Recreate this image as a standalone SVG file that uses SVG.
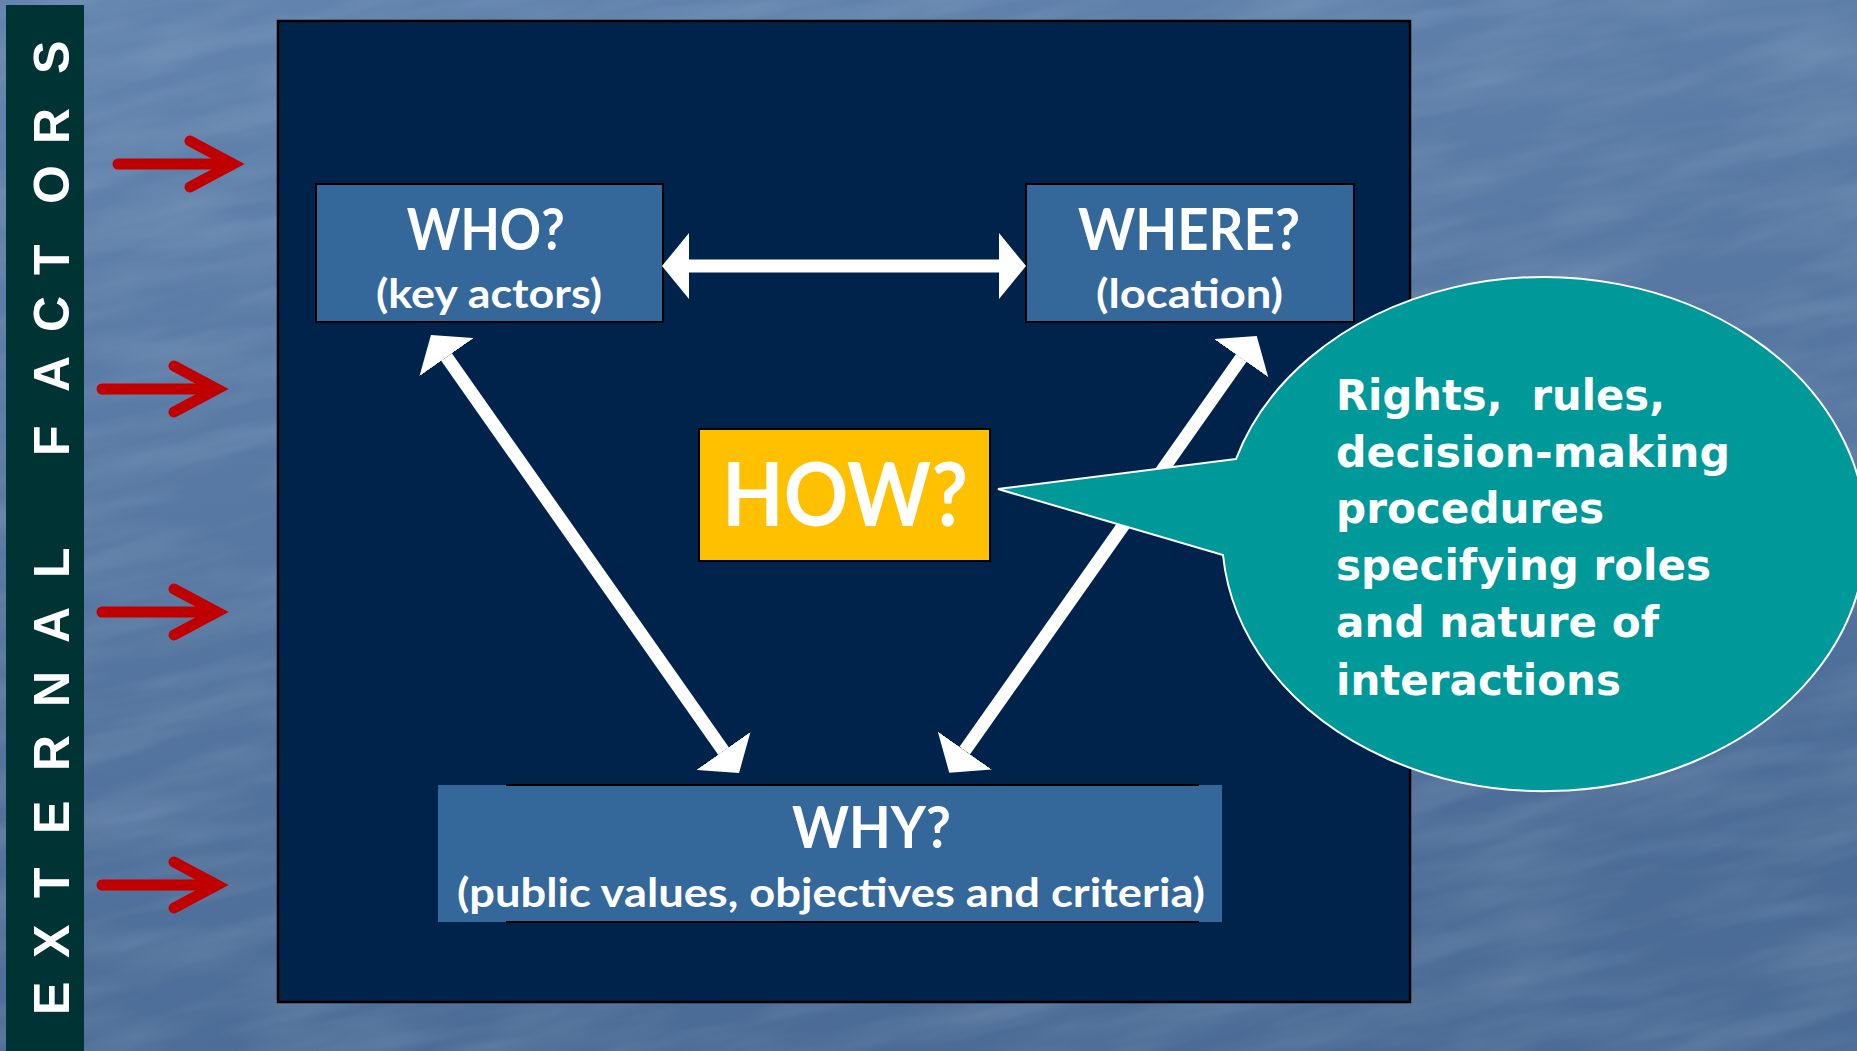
<svg xmlns="http://www.w3.org/2000/svg" width="1857" height="1051" viewBox="0 0 1857 1051">
  <defs>
    <linearGradient id="bg" x1="0" y1="0" x2="0.3" y2="1">
      <stop offset="0" stop-color="#6284ae"/>
      <stop offset="1" stop-color="#4b6c96"/>
    </linearGradient>
    <filter id="marble" x="0" y="0" width="100%" height="100%">
      <feTurbulence type="fractalNoise" baseFrequency="0.006 0.035" numOctaves="3" seed="4" result="n"/>
      <feColorMatrix in="n" type="matrix" values="0 0 0 0 1  0 0 0 0 1  0 0 0 0 1  0 0 0 -1.6 1.05"/>
    </filter>
    <clipPath id="page">
      <rect x="0" y="0" width="1857" height="1051"/>
    </clipPath>
    <marker id="head" markerUnits="userSpaceOnUse" markerWidth="27" markerHeight="66" viewBox="0 -33 27 66" refX="0" refY="0" orient="auto-start-reverse">
      <path d="M0,-33 L27,0 L0,33 Z" fill="#ffffff"/>
    </marker>
    <style>
      .node { fill: #34679a; stroke: #000000; stroke-width: 2; }
      .lbl { font-family: Lato, "Open Sans", sans-serif; font-weight: bold; fill: #ffffff; }
      .conn { stroke: #ffffff; stroke-width: 13; fill: none; marker-start: url(#head); marker-end: url(#head); }
      .red { stroke: #c00000; stroke-width: 11; fill: none; stroke-linecap: round; stroke-linejoin: miter; }
      .callout-text { font-family: "DejaVu Sans", Verdana, sans-serif; font-weight: bold; font-size: 42px; fill: #ffffff; white-space: pre; }
    </style>
  </defs>

  <g id="background">
    <rect x="0" y="0" width="1857" height="1051" fill="url(#bg)"/>
    <g clip-path="url(#page)">
      <rect x="-400" y="-500" width="2657" height="2051" filter="url(#marble)" opacity="0.13" transform="rotate(-12 928 525)"/>
    </g>
  </g>

  <g id="external-factors">
    <rect x="6" y="5" width="78" height="1046" fill="#003333"/>
    <text transform="translate(69,1015) rotate(-90)" x="0 57 117 181 244 308 372 437 559 623 683 740 811 871 941" y="0" font-family="'Liberation Sans', Arial, sans-serif" font-weight="bold" font-size="50" fill="#ffffff">EXTERNALFACTORS</text>
  </g>

  <g id="external-arrows">
    <path class="red" d="M118,164 H228"/>
    <path class="red" d="M190,141 L233,164 L190,187"/>
    <path class="red" d="M102,389 H212"/>
    <path class="red" d="M174,366 L217,389 L174,412"/>
    <path class="red" d="M102,612 H212"/>
    <path class="red" d="M174,589 L217,612 L174,635"/>
    <path class="red" d="M102,885 H212"/>
    <path class="red" d="M174,862 L217,885 L174,908"/>
  </g>

  <g id="frame">
    <rect x="278" y="21" width="1132" height="981" fill="#00234b" stroke="#000000" stroke-width="2.5"/>
  </g>

  <g id="who">
    <rect class="node" x="316" y="184" width="347" height="138"/>
    <text class="lbl" x="406.7" y="250" font-size="58" textLength="158" lengthAdjust="spacingAndGlyphs">WHO?</text>
    <text class="lbl" x="376" y="308" font-size="40" textLength="226" lengthAdjust="spacingAndGlyphs">(key actors)</text>
  </g>

  <g id="where">
    <rect class="node" x="1026" y="184" width="328" height="138"/>
    <text class="lbl" x="1078" y="250" font-size="58" textLength="222" lengthAdjust="spacingAndGlyphs">WHERE?</text>
    <text class="lbl" x="1096" y="308" font-size="40" textLength="187" lengthAdjust="spacingAndGlyphs">(location)</text>
  </g>

  <g id="why">
    <rect x="438" y="785" width="784" height="137" fill="#34679a"/>
    <line x1="506" y1="785" x2="1199" y2="785" stroke="#000000" stroke-width="2"/>
    <line x1="506" y1="922" x2="1199" y2="922" stroke="#000000" stroke-width="2"/>
    <text class="lbl" x="792" y="848" font-size="57" textLength="159" lengthAdjust="spacingAndGlyphs">WHY?</text>
    <text class="lbl" x="457" y="907" font-size="40" textLength="748" lengthAdjust="spacingAndGlyphs">(public values, objectives and criteria)</text>
  </g>

  <g id="how">
    <rect x="699" y="429" width="291" height="132" fill="#ffc000" stroke="#000000" stroke-width="2"/>
    <text class="lbl" x="722" y="526" font-size="88" textLength="246" lengthAdjust="spacingAndGlyphs">HOW?</text>
  </g>

  <g id="connectors">
    <line class="conn" x1="689" y1="266" x2="999" y2="266"/>
    <line class="conn" x1="446.5" y1="357.1" x2="723.5" y2="750.9"/>
    <line class="conn" x1="1241.2" y1="358.1" x2="964.8" y2="750.6"/>
  </g>

  <g id="callout">
    <path d="M1236,459 L998,489 L1223,555 A322,257 0 1 0 1236,459 Z" fill="#009999" stroke="#ffffff" stroke-width="2"/>
    <text class="callout-text" x="1336" y="410" textLength="329" lengthAdjust="spacingAndGlyphs">Rights,  rules,</text>
    <text class="callout-text" x="1336" y="467" textLength="394" lengthAdjust="spacingAndGlyphs">decision-making</text>
    <text class="callout-text" x="1336" y="523" textLength="268" lengthAdjust="spacingAndGlyphs">procedures</text>
    <text class="callout-text" x="1336" y="580" textLength="375" lengthAdjust="spacingAndGlyphs">specifying roles</text>
    <text class="callout-text" x="1336" y="637" textLength="323" lengthAdjust="spacingAndGlyphs">and nature of</text>
    <text class="callout-text" x="1336" y="695" textLength="285" lengthAdjust="spacingAndGlyphs">interactions</text>
  </g>
</svg>
